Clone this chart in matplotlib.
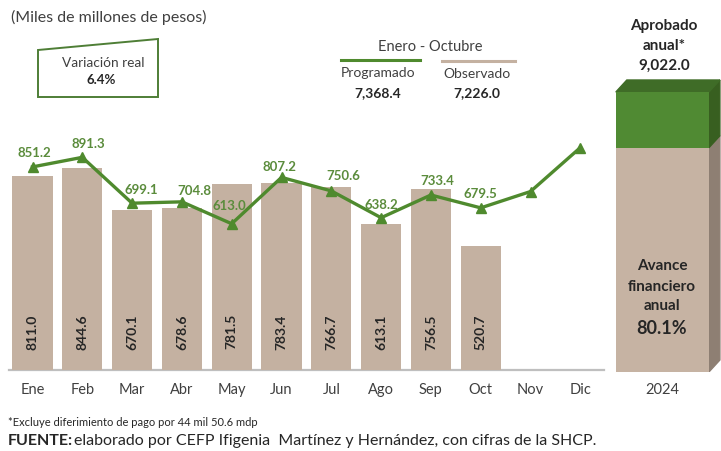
import matplotlib
matplotlib.use("Agg")
import matplotlib.pyplot as plt
from matplotlib.patches import Polygon
from matplotlib.lines import Line2D

plt.rcParams['font.family'] = ['Lato', 'DejaVu Sans']

# ---------------- data ----------------
months = ["Ene", "Feb", "Mar", "Abr", "May", "Jun", "Jul", "Ago", "Sep", "Oct", "Nov", "Dic"]
observado = [811.0, 844.6, 670.1, 678.6, 781.5, 783.4, 766.7, 613.1, 756.5, 520.7]
programado = [851.2, 891.3, 699.1, 704.8, 613.0, 807.2, 750.6, 638.2, 733.4, 679.5, 748.0, 932.0]
prog_labels = ["851.2", "891.3", "699.1", "704.8", "613.0", "807.2", "750.6", "638.2", "733.4", "679.5"]
aprobado_anual = 9022.0
observado_total = 7226.0
programado_total = 7368.4
year_label = "2024"

W, H = 721, 451
fig = plt.figure(figsize=(W / 100, H / 100), dpi=100)
fig.patch.set_facecolor("white")

def fx(x):
    return x / W

def fy(y):
    return 1 - y / H

TAN = "#C4B1A1"
GREEN = "#4F8A2E"
LGREEN = "#5B8C3C"
DARK = "#262626"

# ---------------- main axes ----------------
base_px = 370
scale = 0.2386  # px per unit
ylim_top = 1200
ax_h = ylim_top * scale
left_px = 7.6
right_px = 605.2
ax = fig.add_axes([fx(left_px), fy(base_px), (right_px - left_px) / W, ax_h / H])
ax.set_xlim(-0.5, 11.5)
ax.set_ylim(0, ylim_top)
ax.axis("off")
ax.patch.set_alpha(0)

xs = list(range(len(months)))
ax.bar(xs[:len(observado)], observado, width=0.81, color=TAN, zorder=2)
ax.plot([-0.48, 11.48], [0, 0], color="#BFBFBF", lw=1.6, zorder=1, clip_on=False)

for i, v in enumerate(observado):
    ax.text(i, 160, f"{v:.1f}", rotation=90, ha="center", va="center",
            fontsize=10, fontweight="bold", color=DARK, zorder=4)

ax.plot(xs, programado, color=GREEN, lw=2.4, marker="^", markersize=7.5,
        markerfacecolor=GREEN, markeredgecolor=GREEN, zorder=3, clip_on=False)

label_off = [(2, 14), (6, 13), (9, 13), (12, 11), (-2, 18), (-2, 10), (12, 15), (0, 13), (6, 14), (0, 14)]
for i, (lab, (dx, dy)) in enumerate(zip(prog_labels, label_off)):
    ax.annotate(lab, (i, programado[i]), xytext=(dx, dy), textcoords="offset pixels",
                ha="center", va="center", fontsize=9.5, fontweight="bold",
                color=LGREEN, zorder=5)

for i, m in enumerate(months):
    ax.text(i, -20 / scale, m, ha="center", va="center", fontsize=10.5, color="#404040")

# ---------------- right 3D column ----------------
col_base = 372
col_top = 92
col_scale = (col_base - col_top) / aprobado_anual
ax2_top_px = 40
ax2 = fig.add_axes([fx(600), fy(col_base), 121 / W, (col_base - ax2_top_px) / H])
ax2.set_xlim(-0.67, 0.63)
ax2.set_ylim(0, (col_base - ax2_top_px) / col_scale)
ax2.axis("off")
ax2.patch.set_alpha(0)

xpx = 121 / 1.3
ddx = 11 / xpx
ddy = 12 / col_scale
resto = aprobado_anual - observado_total
ax2.bar([0], [observado_total], width=1.0, color="#C6B3A3", zorder=2)
ax2.bar([0], [resto], bottom=[observado_total], width=1.0, color="#508A33", zorder=2)
ax2.add_patch(Polygon([(0.5, 0), (0.5 + ddx, ddy), (0.5 + ddx, observado_total + ddy),
                       (0.5, observado_total)], closed=True, color="#8E7F73", zorder=1))
ax2.add_patch(Polygon([(0.5, observado_total), (0.5 + ddx, observado_total + ddy),
                       (0.5 + ddx, aprobado_anual + ddy), (0.5, aprobado_anual)],
                      closed=True, color="#385F20", zorder=1))
ax2.add_patch(Polygon([(-0.5, aprobado_anual), (-0.5 + ddx, aprobado_anual + ddy),
                       (0.5 + ddx, aprobado_anual + ddy), (0.5, aprobado_anual)],
                      closed=True, color="#3F6C27", zorder=1))

fig.text(fx(662), fy(390), year_label, ha="center", va="center", fontsize=10.5, color="#404040")
for txt, y, fs in [("Avance", 266, 11), ("financiero", 287, 11), ("anual", 306, 11), ("80.1%", 328, 13)]:
    fig.text(fx(662), fy(y), txt, ha="center", va="center", fontsize=fs, fontweight="bold", color=DARK)
for txt, y in [("Aprobado", 26), ("anual*", 46), (f"{aprobado_anual:,.1f}", 66)]:
    fig.text(fx(664), fy(y), txt, ha="center", va="center", fontsize=11, fontweight="bold", color=DARK)

# ---------------- annotations ----------------
fig.text(fx(11), fy(17), "(Miles de millones de pesos)", ha="left", va="center", fontsize=11.5, color="#404040")

box = Polygon([(fx(38), fy(50)), (fx(158), fy(39)), (fx(158), fy(97)), (fx(38), fy(97))],
              closed=True, fill=False, edgecolor="#4E7E36", lw=1.4, transform=fig.transFigure)
fig.patches.append(box)
fig.text(fx(103), fy(63), "Variación real", ha="center", va="center", fontsize=9.8, color="#404040")
fig.text(fx(101), fy(80), "6.4%", ha="center", va="center", fontsize=9.5, fontweight="bold", color=DARK)

fig.text(fx(430), fy(47), "Enero - Octubre", ha="center", va="center", fontsize=10.5, color="#404040")
fig.lines.append(Line2D([fx(341), fx(420)], [fy(60), fy(60)], color=GREEN, lw=2.2, transform=fig.transFigure))
fig.lines.append(Line2D([fx(442), fx(515)], [fy(61), fy(61)], color=TAN, lw=2.2, transform=fig.transFigure))
fig.text(fx(378), fy(73), "Programado", ha="center", va="center", fontsize=10, color="#404040")
fig.text(fx(378), fy(93), f"{programado_total:,.1f}", ha="center", va="center", fontsize=10, fontweight="bold", color=DARK)
fig.text(fx(477), fy(74), "Observado", ha="center", va="center", fontsize=10, color="#404040")
fig.text(fx(477), fy(93), f"{observado_total:,.1f}", ha="center", va="center", fontsize=10, fontweight="bold", color=DARK)

fig.text(fx(8), fy(422), "*Excluye diferimiento de pago por 44 mil 50.6 mdp", ha="left", va="center",
         fontsize=8, color="#262626")
fig.text(fx(8), fy(441), "FUENTE:", ha="left", va="center", fontsize=11.5, fontweight="bold", color="#262626")
fig.text(fx(74), fy(441), "elaborado por CEFP Ifigenia  Martínez y Hernández, con cifras de la SHCP.",
         ha="left", va="center", fontsize=11.5, color="#262626")

fig.savefig("out.png", dpi=100, facecolor="white")
